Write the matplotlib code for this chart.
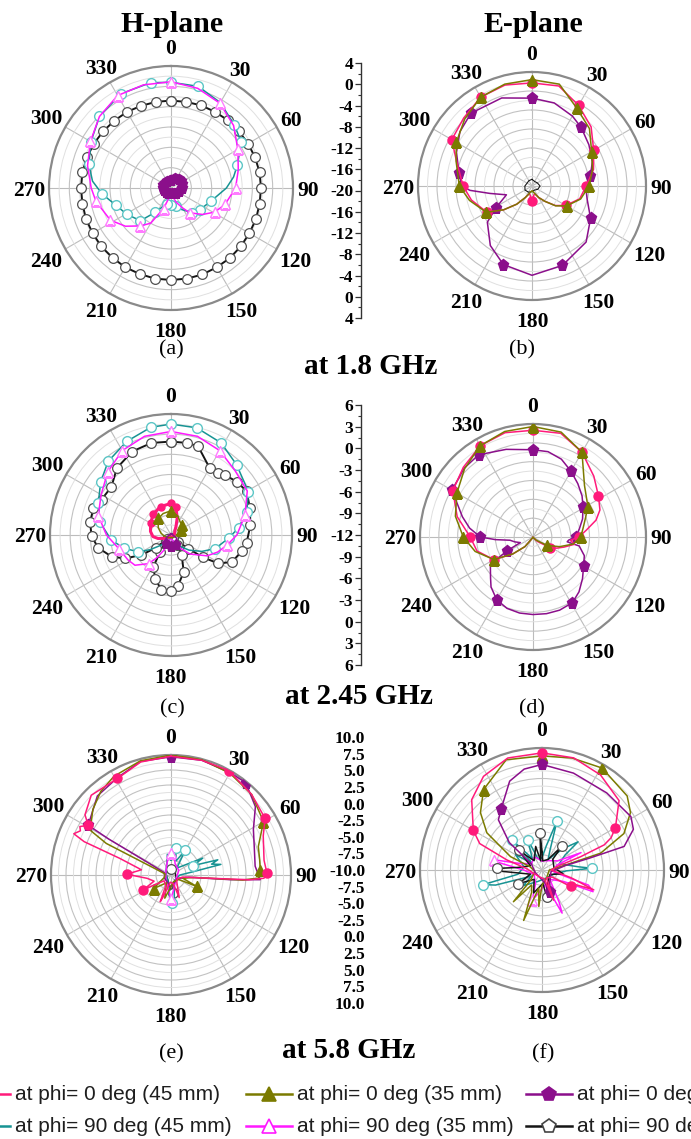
import numpy as np
import matplotlib
matplotlib.use('Agg')
import matplotlib.pyplot as plt
from matplotlib.lines import Line2D
from matplotlib.ticker import FixedLocator, FixedFormatter

# ---------------- data (angles in degrees, gains in dB) ----------------
angle_ticks = [0, 30, 60, 90, 120, 150, 180, 210, 240, 270, 300, 330]

# (a) 1.8 GHz H-plane
a_black_theta = list(range(0, 361, 10))
a_black_db = [-2.8, -2.8, -2.7, -2.7, -2.6, -2.6, -2.5, -2.4, -2.3, -2.3, -2.3, -2.2, -2.2, -2.1, -2.0, -2.0,
              -1.9, -1.9, -1.9, -1.9, -2.0, -2.0, -2.1, -2.1, -2.2, -2.2, -2.3, -2.3, -2.3, -2.4, -2.5, -2.6,
              -2.7, -2.7, -2.8, -2.8, -2.8]
a_teal_theta = [0, 15, 30, 45, 57, 71, 80, 90, 108, 127, 140, 154, 165, 180, 195, 213, 223, 239, 253, 265, 275,
                286, 300, 315, 332, 349, 360]
a_teal_db = [0.8, 0.7, -0.6, -2.4, -3.5, -6.2, -7.5, -9.1, -11.7, -12.9, -13.7, -15.3, -16.3, -16.6, -16.8, -14.3,
             -11.2, -9.9, -8.6, -6.4, -4.5, -3.2, -1.8, -0.1, 1.0, 1.1, 0.8]
a_mag_theta = [0, 15, 30, 45, 60, 75, 90, 107, 119, 130, 143, 150, 160, 170, 180, 190, 200, 210, 219, 230, 242,
               260, 270, 285, 300, 315, 330, 345, 360]
a_mag_db = [0.9, 0.3, -0.75, -2.6, -4.8, -6.3, -7.3, -8.9, -10.2, -11.9, -13.9, -15.5, -17.0, -18.4, -19.5, -18.2,
            -15.7, -12.0, -10.4, -8.3, -6.5, -5.0, -4.3, -3.0, -1.7, -0.1, 1.0, 1.0, 0.9]
a_purp_theta = [0, 20, 40, 53, 70, 90, 110, 130, 150, 170, 190, 210, 230, 250, 270, 290, 310, 330, 350, 360]
a_purp_db = [-18.4, -17.9, -17.6, -17.6, -17.8, -17.9, -18.3, -18.6, -18.9, -19.0, -19.0, -18.9, -18.7, -18.6,
             -18.5, -18.4, -18.4, -18.3, -18.4, -18.4]

# (b) 1.8 GHz E-plane
b_pink_theta = [0, 15, 30, 45, 60, 75, 90, 105, 120, 130, 140, 150, 160, 170, 175, 180, 185, 190, 200, 210, 220,
                230, 240, 257, 270, 288, 300, 315, 330, 345, 360]
b_pink_db = [1.7, 1.8, -0.4, -2.4, -5.0, -6.6, -8.6, -9.6, -11.8, -13.6, -15.8, -17.2, -18.3, -18.0, -16.5, -16.8,
             -16.6, -18.0, -18.3, -17.2, -15.0, -12.2, -9.0, -6.9, -5.5, -3.3, -0.5, 0.3, 1.6, 2.0, 1.7]
b_olive_theta = [0, 15, 30, 45, 60, 75, 90, 105, 120, 130, 140, 150, 160, 170, 180, 190, 200, 210, 220, 230, 240,
                 257, 270, 288, 300, 315, 330, 345, 360]
b_olive_db = [2.4, 2.2, -1.1, -2.9, -5.5, -6.8, -8.0, -9.4, -11.6, -13.5, -15.8, -17.2, -18.3, -18.8, -19.0, -18.8,
              -18.3, -17.2, -15.0, -12.2, -8.9, -6.5, -4.7, -3.2, -1.6, 0.0, 1.6, 2.2, 2.4]
b_purp_theta = [0, 15, 30, 40, 54, 68, 80, 90, 103, 119, 136, 159, 180, 200, 215, 231, 239, 251, 260, 266, 270,
                280, 294, 307, 320, 341, 360]
b_purp_db = [-1.5, -1.9, -3.0, -3.9, -5.2, -6.3, -7.5, -8.7, -8.1, -5.9, -3.6, -2.1, -1.2, -2.4, -4.7, -7.9, -11.2,
             -14.3, -11.0, -6.9, -5.2, -4.4, -2.6, -1.0, 0.0, -0.4, -1.5]
b_black_theta = [0, 30, 60, 90, 120, 150, 180, 210, 240, 270, 300, 330, 360]
b_black_db = [-18.6, -18.9, -18.7, -18.3, -18.6, -19.0, -18.8, -18.5, -18.3, -18.5, -18.8, -18.7, -18.6]

# (c) 2.45 GHz H-plane
c_teal_theta = [0, 13.5, 28.6, 43, 60.7, 73, 84, 93, 107, 118, 130, 150, 165, 180, 200, 215, 228, 235, 243, 254,
                265, 280.6, 293.5, 307, 319.5, 334.6, 349.4, 360]
c_teal_db = [4.5, 4.4, 3.6, 2.3, 1.2, -0.2, -1.9, -3.4, -5.1, -6.8, -8.5, -10.3, -11.2, -11.5, -11.2, -10.5, -9.5,
             -8.2, -6.5, -4.8, -3.1, -1.2, -0.2, 1.1, 2.4, 3.4, 4.3, 4.5]
c_mag_theta = [0, 15, 30, 45, 60, 75, 90, 100, 110, 120, 135, 150, 165, 180, 195, 205, 212, 218, 230, 240, 255,
               270, 285, 300, 315, 330, 345, 360]
c_mag_db = [3.4, 3.2, 2.5, 1.5, 1.1, -0.6, -2.2, -3.5, -4.6, -5.8, -8.0, -10.0, -11.2, -11.6, -11.0, -9.5, -8.0,
            -6.6, -5.0, -4.6, -4.0, -2.4, -0.8, 0.0, 1.3, 2.5, 3.2, 3.4]
c_black_theta = [0, 10, 17, 30, 37, 42, 51, 60, 71, 83, 96, 103, 114, 121, 125, 128, 133, 142, 148, 152, 161, 172,
                 180, 190, 200, 209, 213, 218, 224, 230, 236, 243, 250, 260, 269, 279, 289, 297, 309, 321, 335,
                 348, 360]
c_black_db = [1.9, 1.9, 1.8, -0.5, -0.4, 0.0, 0.6, 1.0, 0.4, -0.1, -0.7, -1.2, -2.1, -3.8, -6.2, -8.7, -10.5, -11.5,
              -10.3, -8.6, -6.2, -4.4, -3.6, -3.7, -5.1, -6.6, -9.0, -10.8, -11.2, -9.0, -6.7, -4.3, -2.6, -1.0,
              -0.2, 0.2, 0.2, -0.4, -0.6, 0.8, 1.7, 2.0, 1.9]
c_pink_theta = [0, 10, 20, 30, 45, 90, 150, 210, 240, 255, 265, 280, 300, 320, 340, 360]
c_pink_db = [-7.3, -7.8, -9.3, -10.5, -11.2, -11.5, -11.7, -11.6, -11.0, -10.0, -9.3, -8.9, -8.5, -7.9, -7.5, -7.3]
c_olive_theta = [0, 20, 34, 50, 65, 80, 100, 140, 180, 220, 260, 280, 300, 323, 340, 360]
c_olive_db = [-8.4, -9.0, -9.6, -9.8, -10.3, -10.6, -11.2, -11.5, -11.6, -11.5, -11.0, -10.5, -9.8, -8.9, -8.6, -8.4]
c_purp_theta = [0, 60, 120, 150, 180, 210, 240, 300, 360]
c_purp_db = [-11.8, -11.8, -11.0, -10.5, -10.4, -10.6, -11.2, -11.8, -11.8]

# (d) 2.45 GHz E-plane
d_pink_theta = [0, 15, 30, 45, 58, 68, 75, 83, 90, 95, 100, 108, 115, 122, 135, 150, 180, 210, 220, 230, 240, 256,
                270, 285, 300, 315, 330, 345, 360]
d_pink_db = [5.0, 5.1, 3.6, 1.7, 0.3, -0.5, -1.6, -3.5, -4.7, -6.0, -5.3, -6.8, -7.8, -8.8, -11.0, -11.8, -12.0,
             -11.8, -10.0, -7.8, -4.8, -2.8, -2.0, 0.5, 2.75, 3.7, 4.8, 5.2, 5.0]
d_olive_theta = [0, 15, 30, 45, 61, 70, 80, 90, 100, 110, 121, 135, 150, 180, 210, 220, 230, 240, 256, 270, 285,
                 300, 315, 330, 345, 360]
d_olive_db = [5.6, 5.3, 3.6, -0.4, -2.0, -3.1, -3.9, -4.4, -5.5, -7.5, -9.4, -11.3, -11.9, -12.0, -11.8, -10.0,
              -7.8, -4.8, -2.5, -0.9, 0.8, 2.0, 3.4, 4.8, 5.4, 5.6]
d_purp_theta = [0, 10, 20, 30, 40, 50, 59, 70, 80, 90, 95, 98, 101, 110, 120, 130, 140, 149, 160, 170, 180, 190,
                200, 210, 220, 226, 237, 242, 246, 255, 262, 266, 270, 278, 286, 300, 315, 326.5, 343, 360]
d_purp_db = [1.9, 1.8, 1.2, 0.1, -0.9, -1.8, -2.7, -3.6, -4.5, -5.2, -6.3, -6.5, -4.5, -3.3, -2.7, -1.7, -0.6, 0.2,
             0.4, 0.4, 0.35, 0.3, 0.1, -0.45, -1.6, -2.6, -3.9, -7.3, -9.8, -9.0, -8.3, -6.0, -3.6, -1.8, -0.3,
             2.9, 3.5, 3.7, 2.6, 1.9]

# (e) 5.8 GHz H-plane
e_pink_theta = [0, 15, 29, 45, 59, 67, 81, 89, 92, 93.5, 95, 100, 120, 140, 155, 160, 165, 185, 200, 202, 206,
                230, 242, 250, 262, 271, 280, 288, 291, 293, 296, 298, 301, 305, 315, 331, 345, 360]
e_pink_db = [9.8, 9.8, 9.9, 9.0, 8.3, 6.7, 5.7, 6.0, 5.5, 3.0, -4.0, -8.0, -8.8, -8.5, -7.2, -6.0, -8.5, -8.8,
             -6.0, -5.2, -8.0, -8.5, -4.8, -7.0, -6.0, -2.6, -5.0, -1.0, 5.5, 7.6, 6.8, 7.2, 6.1, 7.5, 8.8, 8.4,
             9.5, 9.8]
e_olive_theta = [0, 15, 30, 45, 60, 72, 80, 87, 92, 94, 96, 105, 114, 120, 160, 195, 210, 232, 250, 280, 292, 296,
                 299, 310, 320, 330, 345, 360]
e_olive_db = [10.0, 9.9, 9.6, 9.0, 7.8, 5.3, 5.0, 4.9, 4.6, 2.0, -6.0, -8.0, -5.3, -8.5, -8.8, -6.0, -8.5, -6.3,
              -8.8, -9.0, -7.0, 2.0, 5.4, 7.0, 8.2, 9.0, 9.7, 10.0]
e_purp_theta = [0, 15, 30, 39, 51, 61, 72, 84, 93, 94.5, 97, 120, 180, 240, 290, 298, 300, 301, 317, 331, 345, 360]
e_purp_db = [9.7, 9.8, 9.7, 9.8, 8.1, 5.7, 4.6, 4.1, 4.9, 0.0, -7.0, -8.8, -8.0, -8.8, -8.8, -6.0, 2.0, 6.1, 8.0,
             8.5, 9.6, 9.7]
e_teal_theta = [0, 10, 20, 30, 40, 55, 62, 67, 72, 75, 78, 82, 90, 120, 160, 172, 178, 184, 195, 240, 300, 340,
                350, 360]
e_teal_db = [-7.5, -5.5, -7.5, -5.2, -8.5, -7.0, -4.0, -6.0, -1.8, -3.0, -1.5, -6.5, -8.5, -9.0, -8.5, -6.0, -5.4,
             -6.5, -8.5, -9.2, -9.0, -8.0, -6.5, -7.5]
e_mag_theta = [0, 10, 20, 60, 120, 170, 180, 190, 240, 300, 340, 350, 360]
e_mag_db = [-6.4, -6.8, -8.0, -8.5, -9.0, -7.5, -6.0, -7.5, -9.0, -9.0, -8.0, -7.2, -6.4]
e_black_theta = [0, 60, 120, 165, 175, 185, 240, 300, 360]
e_black_db = [-9.0, -9.2, -9.0, -8.5, -7.0, -8.0, -9.2, -9.0, -9.0]

# (f) 5.8 GHz E-plane
f_pink_theta = [0, 15.8, 31.6, 48, 60, 65, 68, 71, 77, 90, 105, 111, 115, 120, 125, 150, 159, 165, 200, 250, 275,
                286, 293, 300, 315, 328, 343, 360]
f_pink_db = [9.2, 9.1, 8.3, 7.0, 3.9, 2.5, 1.0, -3.3, -7.5, -8.5, -5.0, -0.9, -5.0, -4.6, -8.0, -8.5, -4.7, -8.5,
             -8.8, -8.5, -7.5, -4.0, 1.1, 3.0, 6.3, 8.1, 9.2, 9.2]
f_olive_theta = [0, 15, 30.5, 49, 57, 66, 74, 78, 90, 150, 180, 185, 190, 200, 205, 215, 222, 228, 260, 285, 293,
                 304, 313, 324, 342, 360]
f_olive_db = [8.7, 9.0, 9.4, 8.5, 7.3, 4.7, 0.0, -6.0, -8.8, -8.5, -7.5, -4.0, -7.0, -1.2, -6.0, -7.0, -3.0, -7.5,
              -8.8, -8.0, -4.4, 0.9, 3.8, 6.3, 9.0, 8.7]
f_purp_theta = [0, 18, 40, 59, 66, 74, 76, 79, 100, 150, 159, 170, 250, 300, 310, 319, 326, 340, 350, 360]
f_purp_db = [7.3, 6.7, 6.5, 7.0, 6.4, 4.0, -2.0, -6.0, -8.5, -7.5, -6.2, -8.0, -8.8, -8.0, -3.0, 0.9, 2.0, 5.5,
             6.8, 7.3]
f_teal_theta = [0, 10, 17, 22, 30, 45, 52, 57, 70, 85, 88, 92, 110, 150, 200, 230, 240, 252, 256, 260, 280, 300,
                305, 315, 320, 335, 340, 360]
f_teal_db = [-8.0, -6.0, -1.6, -6.5, -8.0, -5.0, -2.5, -5.5, -7.0, -4.0, -1.8, -6.0, -8.0, -8.5, -8.0, -6.0, -8.0,
             -2.0, -0.1, -6.0, -7.0, -5.0, -8.0, -3.0, -7.5, -4.5, -8.0, -8.0]
f_black_theta = [0, 5, 30, 40, 45, 80, 100, 120, 160, 170, 176, 200, 220, 240, 250, 268, 272, 276, 290, 310, 320,
                 345, 352, 357, 360]
f_black_db = [-7.0, -8.5, -8.0, -4.8, -7.5, -8.0, -6.5, -8.5, -7.5, -5.5, -7.8, -6.0, -8.0, -5.5, -8.0, -3.5, -2.6,
              -6.0, -8.0, -5.0, -8.0, -6.0, -8.5, -4.0, -7.0]
f_mag_theta = [0, 40, 60, 66, 72, 100, 108, 113, 118, 140, 152, 155, 158, 170, 190, 198, 205, 240, 270, 280, 282,
               286, 300, 330, 360]
f_mag_db = [-8.5, -8.0, -7.0, -3.0, -7.5, -8.0, -2.0, -0.9, -6.0, -8.0, -4.0, -2.2, -5.0, -7.5, -6.0, -4.8, -7.5,
            -8.5, -7.0, -2.5, -1.9, -6.0, -8.0, -7.5, -8.5]

# centre scales and texts
mid18_labels = ['4', '0', '-4', '-8', '-12', '-16', '-20', '-16', '-12', '-8', '-4', '0', '4']
mid245_labels = ['6', '3', '0', '-3', '-6', '-9', '-12', '-9', '-6', '-3', '0', '3', '6']
mid58_labels = ['10.0', '7.5', '5.0', '2.5', '0.0', '-2.5', '-5.0', '-7.5', '-10.0', '-7.5', '-5.0', '-2.5', '0.0',
                '2.5', '5.0', '7.5', '10.0']
plane_titles = ['H-plane', 'E-plane']
freq_labels = ['at 1.8 GHz', 'at 2.45 GHz', 'at 5.8 GHz']
panel_letters = ['(a)', '(b)', '(c)', '(d)', '(e)', '(f)']
legend_labels = ['at phi= 0 deg (45 mm)', 'at phi= 90 deg (45 mm)', 'at phi= 0 deg (35 mm)',
                 'at phi= 90 deg (35 mm)', 'at phi= 0 deg (25 mm)', 'at phi= 90 deg (25 mm)']

# ---------------- figure ----------------
W, H = 691, 1139
fig = plt.figure(figsize=(W / 100, H / 100), dpi=100)
fig.patch.set_facecolor('white')
SERIF = ['Liberation Serif', 'DejaVu Serif']
SANS = ['Liberation Sans', 'DejaVu Sans']

STY = {
    'pink': dict(color='#ff1a7a', marker='o', mfc='#ff1a7a', mec='#ff1a7a', ms=6.5, mew=1.0),
    'teal': dict(color='#179393', marker='o', mfc='white', mec='#5cc6c6', ms=7, mew=1.0),
    'olive': dict(color='#7b7b00', marker='^', mfc='#7b7b00', mec='#7b7b00', ms=7, mew=1.0),
    'mag': dict(color='#ff19ff', marker='^', mfc='white', mec='#ff7cff', ms=7.5, mew=1.0),
    'purp': dict(color='#8b0f8b', marker='p', mfc='#8b0f8b', mec='#8b0f8b', ms=8, mew=1.0),
    'black': dict(color='#151515', marker='o', mfc='white', mec='#505050', ms=7, mew=0.9),
}

LAB_FS = 15.5
DIGIT_W = 0.5 * LAB_FS * 100 / 72      # px per digit (Times bold)
DIGIT_H2 = 0.34 * LAB_FS * 100 / 72    # half digit height in px


def px(x, y):
    return x / W, 1 - y / H


def polar_panel(cx, cy, R, rmin, rmax, step):
    ax = fig.add_axes([(cx - R) / W, 1 - (cy + R) / H, 2 * R / W, 2 * R / H], projection='polar')
    ax.set_theta_zero_location('N')
    ax.set_theta_direction(-1)
    ax.set_ylim(rmin, rmax)
    ax.set_xticks(np.deg2rad(angle_ticks))
    ax.set_xticklabels([])
    ax.set_yticks(np.arange(rmin + step, rmax + 1e-9, step))
    ax.set_yticks(np.arange(rmin + step / 2, rmax, step), minor=True)
    ax.set_yticklabels([])
    ax.tick_params(axis='both', which='both', length=0)
    ax.xaxis.grid(True, color='#bcbcbc', lw=0.8)
    ax.yaxis.grid(True, which='major', color='#c2c2c2', lw=0.8)
    ax.yaxis.grid(True, which='minor', color='#e0e0e0', lw=0.7)
    ax.spines['polar'].set_color('#8a8a8a')
    ax.spines['polar'].set_linewidth(1.6)
    for a in angle_ticks:
        s = str(a)
        th = np.deg2rad(a)
        sx, cy_ = np.sin(th), np.cos(th)
        ext = abs(sx) * len(s) * DIGIT_W / 2 + abs(cy_) * DIGIT_H2
        gap = 12 if a in (0, 180) else 4
        d = gap + ext
        ax.annotate(s, xy=(th, rmax), xytext=(d * sx, d * cy_), textcoords='offset pixels',
                    ha='center', va='center_baseline', fontsize=LAB_FS, fontweight='bold',
                    family=SERIF, annotation_clip=False)
    return ax


def draw(ax, th, db, key, mark=None, lw=1.1, z=3, ms=None):
    st = STY[key]
    t = np.deg2rad(np.asarray(th, dtype=float))
    if mark is None:
        ax.plot(t, db, color=st['color'], lw=lw, zorder=z)
        return
    if mark == 'all':
        me = list(range(len(th)))
    else:
        me = [i for i, a in enumerate(th) if a in mark]
    ax.plot(t, db, color=st['color'], lw=lw, marker=st['marker'], markevery=me,
            ms=(ms if ms is not None else st['ms']),
            mfc=st['mfc'], mec=st['mec'], mew=st['mew'], zorder=z)


# (a)
ax = polar_panel(171, 188, 122, -20, 4, 4)
draw(ax, a_black_theta, a_black_db, 'black', 'all', lw=1.4)
draw(ax, a_teal_theta, a_teal_db, 'teal', [0, 15, 45, 57, 71, 108, 127, 140, 165, 180, 195, 213, 223, 239, 253, 265, 286, 300, 315, 332, 349])
draw(ax, a_mag_theta, a_mag_db, 'mag', [0, 30, 60, 90, 107, 119, 143, 200, 219, 242, 260, 300, 330])
draw(ax, a_purp_theta, a_purp_db, 'purp', 'all', ms=7)

# (b)
ax = polar_panel(532, 186, 114, -20, 4, 4)
draw(ax, b_black_theta, b_black_db, 'black', None, lw=0.8)
draw(ax, b_purp_theta, b_purp_db, 'purp', [0, 40, 80, 119, 159, 200, 239, 280, 320])
draw(ax, b_pink_theta, b_pink_db, 'pink', [0, 30, 60, 90, 120, 180, 240, 270, 300, 330])
draw(ax, b_olive_theta, b_olive_db, 'olive', [0, 30, 60, 90, 120, 240, 270, 300, 330])

# (c)
ax = polar_panel(171, 535, 121, -12, 6, 3)
draw(ax, c_black_theta, c_black_db, 'black', 'all', lw=1.4)
draw(ax, c_teal_theta, c_teal_db, 'teal', [0, 13.5, 28.6, 43, 60.7, 73, 84, 93, 107, 243, 254, 265, 280.6, 293.5, 307, 319.5, 334.6, 349.4])
draw(ax, c_mag_theta, c_mag_db, 'mag', [0, 30, 75, 100, 218, 255, 285, 315, 330])
draw(ax, c_pink_theta, c_pink_db, 'pink', [0, 10, 300, 320, 340], lw=2.2, ms=5)
draw(ax, c_olive_theta, c_olive_db, 'olive', [0, 50, 65, 323], ms=6.5)
draw(ax, c_purp_theta, c_purp_db, 'purp', [150, 180, 210], ms=6.5)

# (d)
ax = polar_panel(533, 537, 113, -12, 6, 3)
draw(ax, d_purp_theta, d_purp_db, 'purp', [0, 30, 59, 90, 120, 149, 210, 242, 270, 300, 326.5])
draw(ax, d_pink_theta, d_pink_db, 'pink', [0, 30, 58, 90, 122, 240, 270, 300, 330])
draw(ax, d_olive_theta, d_olive_db, 'olive', [0, 30, 61, 90, 121, 240, 270, 300, 330])

# (e)
ax = polar_panel(171, 875, 120, -10, 10, 2.5)
draw(ax, e_black_theta, e_black_db, 'black', [0, 175])
draw(ax, e_teal_theta, e_teal_db, 'teal', [10, 30, 67, 178])
draw(ax, e_mag_theta, e_mag_db, 'mag', [0, 180])
draw(ax, e_purp_theta, e_purp_db, 'purp', [0, 39, 301])
draw(ax, e_olive_theta, e_olive_db, 'olive', [60, 87, 114, 232])
draw(ax, e_pink_theta, e_pink_db, 'pink', [29, 59, 89, 242, 271, 301, 331])

# (f)
ax = polar_panel(542, 870, 122, -10, 10, 2.5)
draw(ax, f_teal_theta, f_teal_db, 'teal', [17, 88, 256, 315, 335])
draw(ax, f_mag_theta, f_mag_db, 'mag', [198, 282])
draw(ax, f_black_theta, f_black_db, 'black', [40, 170, 240, 272, 310, 357])
draw(ax, f_olive_theta, f_olive_db, 'olive', [0, 30.5, 324])
draw(ax, f_purp_theta, f_purp_db, 'purp', [0, 159, 326])
draw(ax, f_pink_theta, f_pink_db, 'pink', [0, 60, 120, 300])


# centre dB scales
def mid_axis(x, ytop, ybot, labels, line=True, fs=12.5):
    ax = fig.add_axes([x / W, 1 - ybot / H, 0.0015, (ybot - ytop) / H])
    n = len(labels)
    ax.set_ylim(0, n - 1)
    ax.set_xlim(0, 1)
    ax.yaxis.set_major_locator(FixedLocator(list(range(n))))
    ax.yaxis.set_major_formatter(FixedFormatter(labels[::-1]))
    ax.yaxis.set_minor_locator(FixedLocator(list(np.arange(0.5, n - 1, 1.0))))
    ax.set_xticks([])
    ax.patch.set_alpha(0)
    for s in ('top', 'right', 'bottom'):
        ax.spines[s].set_visible(False)
    ax.spines['left'].set_color('#333333')
    ax.spines['left'].set_linewidth(1.0)
    if line:
        ax.tick_params(axis='y', which='major', length=4, width=0.9, color='#333333', pad=1.5)
        ax.tick_params(axis='y', which='minor', length=2.5, width=0.8, color='#333333')
    else:
        ax.spines['left'].set_visible(False)
        ax.tick_params(axis='y', which='both', length=0, pad=0)
    for lab in ax.get_yticklabels():
        lab.set_fontfamily(SERIF)
        lab.set_fontweight('bold')
        lab.set_fontsize(fs)
    return ax


mid_axis(361, 63, 318, mid18_labels)
mid_axis(361, 405, 665, mid245_labels)
mid_axis(365, 737, 1003, mid58_labels, line=False, fs=12.5)

# texts
fig.text(*px(172, 32), plane_titles[0], ha='center', va='baseline', fontsize=21.5, fontweight='bold', family=SERIF)
fig.text(*px(533, 32), plane_titles[1], ha='center', va='baseline', fontsize=21.5, fontweight='bold', family=SERIF)
for (x, y), s in zip([(371, 366), (359, 697), (349, 1050)], freq_labels):
    fig.text(*px(x, y), s, ha='center', va='center', fontsize=21, fontweight='bold', family=SERIF)
for (x, y), s in zip([(171, 350), (522, 350), (172, 709), (532, 709), (171, 1054), (543, 1054)], panel_letters):
    fig.text(*px(x, y), s, ha='center', va='center', fontsize=16, family=SERIF)

# legend (drawn in figure pixels, clipped by the figure edge like the original)
legend_keys = ['pink', 'teal', 'olive', 'mag', 'purp', 'black']
legend_markers = ['o', 'o', '^', '^', 'p', 'p']
cols = [(-32, 10, 15), (246, 292, 297), (526, 572, 577)]
rows = [1094, 1126]
for i, (key, lab) in enumerate(zip(legend_keys, legend_labels)):
    c = cols[i // 2]
    y = rows[i % 2]
    st = STY[key]
    x0, y0 = px(c[0], y)
    x1, _ = px(c[1], y)
    xm, _ = px((c[0] + c[1]) / 2, y)
    fig.add_artist(Line2D([x0, x1], [y0, y0], transform=fig.transFigure, color=st['color'], lw=1.8))
    fig.add_artist(Line2D([xm], [y0], transform=fig.transFigure, marker=legend_markers[i], ms=10.5,
                          mfc=st['mfc'], mec=(st['color'] if key != 'black' else '#444444'), mew=1.2,
                          color=st['color'], lw=0))
    fig.text(*px(c[2], y), lab, ha='left', va='center', fontsize=15, family=SANS, color='#1e1e1e')

fig.savefig('out.png', dpi=100)
